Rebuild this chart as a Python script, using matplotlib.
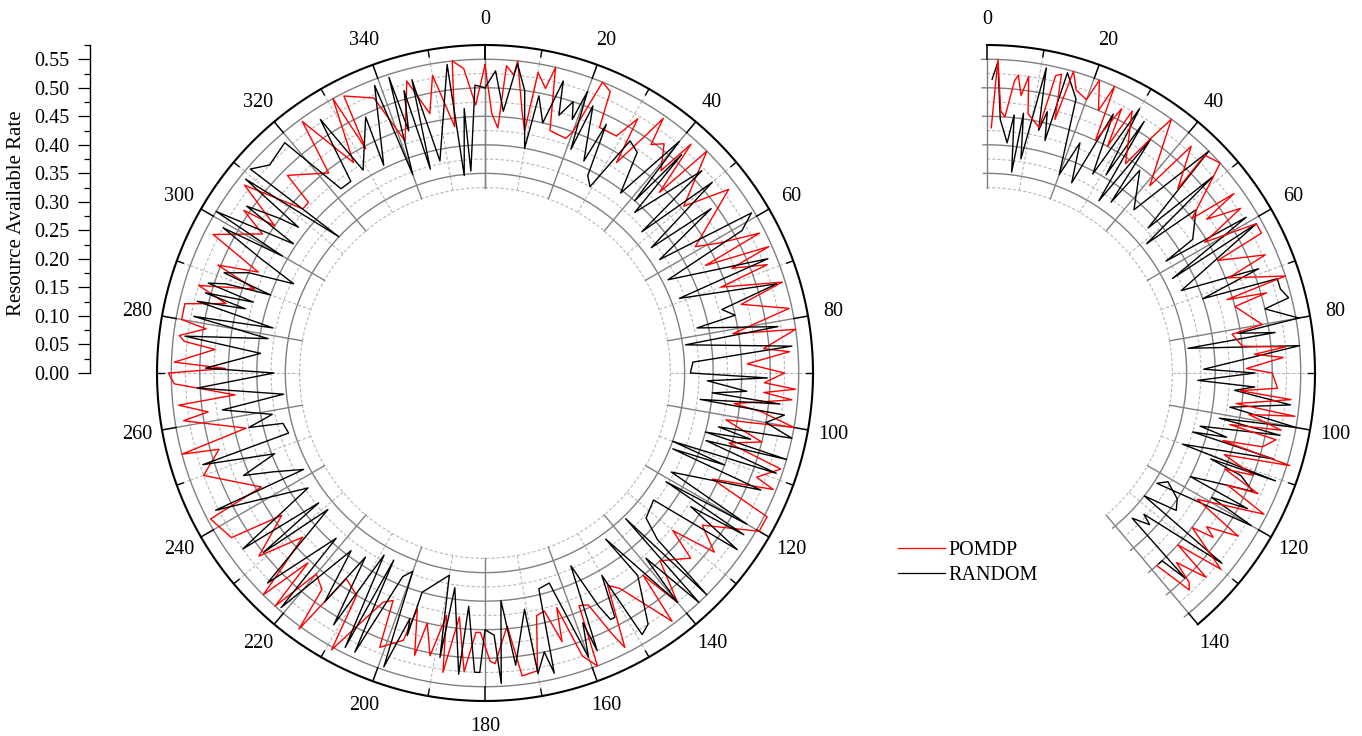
import numpy as np
import matplotlib
matplotlib.use("Agg")
import matplotlib.pyplot as plt
from matplotlib.lines import Line2D

plt.rcParams['font.family'] = ['Liberation Serif', 'DejaVu Serif']

W, H = 1362, 736
SERIES_NAMES = ["POMDP", "RANDOM"]
AXIS_TITLE = "Resource Available Rate"
LEFT_TICKS = list(range(0, 360, 20))
RIGHT_TICKS = list(range(0, 160, 20))

# full-circle chart: (angle, value) pairs
random_full_deg = [0,2,4,6,8,10,11,13,15,16,18,19,20,21,22,25,26,27.5,29.4,32,34.6,37,40,41,42,43,47,48,50,53,54,57,59,61,63,68,69,73,75,77,78,81,82,85,87,
    90,91,92,94,95,96,97,98,100,102,103,104,105,106,107,109,110,111,112,113,118,120,121,122,123,125,127,132,134,135,136,137,139,140,144,143,147,149,150,152,153,154,156,158,158.6,160,163,166,167,168,170,170.5,174,176,177,178,180,181,
    182,184,185,188,189,190,196,196.5,197,199,200,202,205,206,207,209,211,213,215,217,221,222,226,229,231,232,234,237,243,242,245,247,249,252,253,256,257,259,262,264,267,270,
    271,275,277,279,281,282,284,285,286,287,288,289,290,291,293,295,297,299,300,301,304,305,307,308,309,313,311,314,319,322,325,327,329,335,334,339,340,342,342.5,344,345,346,348,353,354,355.5,356,358,360]
random_full_val = [.50,.53,.46,.545,.50,.40,.495,.45,.53,.47,.50,.47,.525,.42,.505,.41,.485,.39,.375,.48,.47,.395,.53,.40,.515,.385,.52,.37,.52,.365,.49,.365,.545,.515,.36,.535,.365,.535,.43,.45,.38,.52,.355,.54,.365,
    .36,.495,.39,.46,.40,.52,.38,.53,.50,.55,.42,.48,.40,.55,.405,.54,.35,.45,.355,.525,.37,.53,.37,.535,.43,.54,.37,.38,.42,.55,.355,.55,.43,.525,.36,.445,.525,.535,.41,.485,.485,.455,.37,.525,.47,.53,.385,.39,.54,.50,.535,.42,.515,.40,.545,.46,.45,.525,
    .525,.41,.53,.38,.505,.36,.40,.48,.45,.545,.37,.385,.54,.365,.54,.365,.515,.385,.49,.39,.545,.39,.53,.365,.50,.37,.525,.37,.53,.36,.41,.46,.395,.52,.36,.365,.425,.38,.465,.355,.505,.37,
    .49,.395,.53,.385,.52,.38,.52,.435,.51,.425,.51,.48,.40,.49,.45,.37,.44,.525,.41,.55,.405,.51,.45,.415,.54,.35,.545,.525,.535,.41,.41,.53,.415,.495,.405,.54,.37,.545,.445,.515,.37,.53,.38,.545,.348,.465,.355,.505,.50]

pomdp_full_deg = [0,1.5,3,4,5.5,6,8,9.3,10,12,13,15,19,20,22,24,25,29,31,32,34,35,36,38,41,42,44,45,50,53,59,61,63,64,66,67,69,70,73,75,78,81,82,85,86,88,
    90,92,93,94,95,97,98,100,101,104,106,108,111,112,115,117,120,125,128,130,132,137,140,142,143,148,150,153,154,156,158,159,161,163,164,166,168,170,173,175,178,
    179,181,182,184,186,188,189,191,193,194,196,197,201,202,204,209,210,214,216,217,220,222,223,225,226,228,231,235,237,242,243,250,254,255,257,261,262,264,265,268,270,
    271,272,275,276,277,279,280,283,285,287,290,292,294,297,302,304,305,308,312,314,315,322,324,328,331,332,333,338,341,345,348,350,353,354,356,358,360]
pomdp_full_val = [.54,.455,.43,.54,.525,.55,.465,.43,.535,.51,.55,.44,.435,.45,.55,.54,.475,.475,.52,.435,.50,.545,.495,.51,.47,.54,.44,.55,.455,.535,.43,.47,.54,.43,.545,.47,.53,.44,.545,.465,.545,.44,.55,.49,.535,.46,
    .525,.49,.545,.49,.54,.44,.49,.55,.43,.50,.445,.545,.51,.545,.44,.555,.555,.465,.51,.43,.485,.45,.525,.45,.545,.445,.43,.54,.51,.445,.44,.55,.525,.43,.49,.43,.435,.53,.535,.445,.51,
    .505,.455,.455,.525,.43,.53,.43,.505,.45,.51,.43,.49,.515,.43,.44,.555,.45,.435,.555,.475,.46,.55,.455,.55,.50,.43,.51,.435,.53,.545,.44,.525,.485,.55,.43,.535,.49,.54,.44,.545,.555,
    .455,.545,.475,.53,.54,.495,.54,.54,.47,.525,.43,.505,.435,.535,.46,.51,.45,.535,.43,.43,.49,.445,.545,.435,.55,.445,.545,.52,.43,.53,.465,.53,.435,.55,.535,.47,.54]

# partial chart (0-140)
pomdp_part_deg = [1,2,3,4,5.4,6,7,8,9,12,13,14,15,16,17.5,20,21,23,24,25,27,28,29,33.5,35,36,41,42,46,45,48,53,54,55,57,59,61,63,64,67,68.5,72,73,74,75,80,81,84,85,86,87,89,
    90,93,94,95,97,98,99,101,102,103,105,106,107,109,111,112,114,115,117,121,123,125,126,127,130,132,133,135,136,137,138.6]
pomdp_part_val = [.43,.55,.46,.45,.515,.525,.49,.525,.46,.44,.535,.54,.46,.55,.52,.51,.55,.50,.55,.45,.52,.45,.525,.44,.505,.55,.435,.535,.465,.54,.55,.45,.535,.47,.53,.445,.54,.54,.45,.53,.455,.55,.44,.51,.45,.49,.435,.45,.525,.47,.52,.455,
    .50,.51,.445,.535,.44,.545,.465,.525,.435,.52,.50,.43,.555,.44,.50,.45,.52,.465,.545,.43,.525,.47,.49,.45,.535,.45,.525,.47,.51,.52,.45]
random_part_deg = [1,2,3,5,6,7,8,9,11,12,13,14,15,18,20,22,24,26,28,30,31,32,33,35,36,37,42,45,48,49,51,52,57,58,59,63,61,67,69,71,72,74,76,77,80,81,82,83,85,89,
    90,92,93,94,96,98,100,101,102,104,105,106,106.7,110,110.5,111,112,114,117,117.5,119,120,123,121,123.5,126,128,129,132,133,135,136,137,138]
random_part_val = [.515,.545,.445,.405,.455,.355,.46,.38,.545,.435,.47,.42,.545,.505,.37,.435,.365,.505,.395,.535,.405,.52,.36,.50,.37,.445,.385,.55,.38,.525,.36,.465,.43,.37,.53,.365,.54,.37,.51,.40,.535,.535,.545,.50,.555,.445,.51,.355,.55,.38,
    .47,.37,.47,.435,.535,.43,.55,.415,.525,.385,.435,.375,.525,.365,.54,.42,.48,.51,.40,.515,.45,.535,.355,.37,.40,.41,.35,.53,.37,.39,.36,.50,.45,.45]

GRID_MAJOR = [.35, .40, .45, .50, .55]
GRID_MINOR = [.325, .375, .425, .475, .525]
R_TOP = .575
R_IN = .325
Y_MAJOR = [round(i * .05, 2) for i in range(12)]
Y_MINOR = [round(.025 + i * .05, 3) for i in range(12)]

GRAY = "#808080"
LGRAY = "#b4b4b4"
RED = "#ff0000"
LW = 1.0
FS = 14.5


def make_polar(fig, cx, cy, span, ticks):
    rp = 328
    ax = fig.add_axes([(cx - rp) / W, (H - cy - rp) / H, 2 * rp / W, 2 * rp / H], projection='polar')
    ax.set_theta_zero_location('N')
    ax.set_theta_direction(-1)
    ax.set_rlim(0, R_TOP)
    ax.grid(False)
    ax.set_xticks([])
    ax.set_yticks([])
    ax.spines['polar'].set_visible(False)
    ax.patch.set_alpha(0)
    full = span == 360
    t = np.deg2rad(np.linspace(0, span, 721))
    t2 = np.deg2rad(np.linspace(-1, span + 1, 721)) if not full else t
    for r in GRID_MINOR:
        ax.plot(t, np.full_like(t, r), color=LGRAY, lw=.75, ls=(0, (3, 2)), zorder=1)
    for r in GRID_MAJOR:
        ax.plot(t2, np.full_like(t2, r), color=GRAY, lw=1.0, zorder=1.2)
    for d in range(0, span + 1, 10):
        a = np.deg2rad(d)
        if d % 20 == 0:
            ax.plot([a, a], [R_IN, .55], color=GRAY, lw=1.0, zorder=1.3)
            ax.plot([a, a], [.55, R_TOP], color='black', lw=1.1, zorder=1.3, clip_on=False)
        else:
            ax.plot([a, a], [R_IN, .55], color=LGRAY, lw=.75, ls=(0, (3, 2)), zorder=1)
            ax.plot([a, a], [.55, R_TOP - .0], color=LGRAY, lw=.75, ls=(0, (3, 2)), zorder=1)
            ax.plot([a, a], [.563, R_TOP], color='black', lw=1.0, zorder=1.3, clip_on=False)
    ax.plot(t, np.full_like(t, R_TOP), color='black', lw=1.5, zorder=3, clip_on=False)
    for d in ticks:
        ax.text(np.deg2rad(d), .6195, str(d), ha='center', va='center', fontsize=FS, clip_on=False)
    return ax


fig = plt.figure(figsize=(W / 100, H / 100), dpi=100)
fig.patch.set_facecolor('white')

ax1 = make_polar(fig, 485, 373, 360, LEFT_TICKS)
ax1.plot(np.deg2rad(pomdp_full_deg), pomdp_full_val, color=RED, lw=LW, zorder=4)
ax1.plot(np.deg2rad(random_full_deg), random_full_val, color='black', lw=LW, zorder=5)

ax2 = make_polar(fig, 987, 373, 140, RIGHT_TICKS)
ax2.plot(np.deg2rad(random_part_deg), random_part_val, color='black', lw=LW, zorder=4)
ax2.plot(np.deg2rad(pomdp_part_deg), pomdp_part_val, color=RED, lw=LW, zorder=5)

axy = fig.add_axes([90 / W, (H - 373) / H, 1 / W, 328 / H])
axy.set_ylim(0, R_TOP)
axy.set_xticks([])
for s in ('top', 'right', 'bottom'):
    axy.spines[s].set_visible(False)
axy.spines['left'].set_linewidth(1.0)
axy.patch.set_alpha(0)
axy.set_yticks(Y_MAJOR)
axy.set_yticklabels([f"{v:.2f}" for v in Y_MAJOR], fontsize=FS)
axy.set_yticks(Y_MINOR, minor=True)
axy.tick_params(axis='y', which='major', length=9, width=.9, pad=6)
axy.tick_params(axis='y', which='minor', length=4.5, width=.9)
fig.text(17 / W, 1 - 213 / H, AXIS_TITLE, rotation=90, ha='center', va='center', fontsize=15)

handles = [Line2D([], [], color=RED, lw=.9), Line2D([], [], color='black', lw=.9)]
fig.legend(handles, SERIES_NAMES, loc='upper left', bbox_to_anchor=(892 / W, 1 - 535 / H), frameon=False,
           fontsize=FS, handlelength=2.35, handletextpad=.15, labelspacing=.3, borderpad=0.3, borderaxespad=0)

fig.savefig("out.png", dpi=100)
